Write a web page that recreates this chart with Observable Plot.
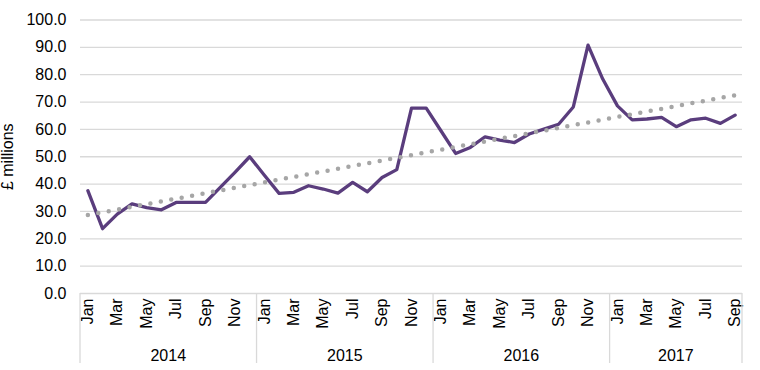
<!DOCTYPE html>
<html>
<head>
<meta charset="utf-8">
<script src="https://cdn.jsdelivr.net/npm/d3@7"></script>
<script src="https://cdn.jsdelivr.net/npm/@observablehq/plot@0.6"></script>
<style>
  html, body { margin: 0; padding: 0; background: #fff; }
  #chart { width: 760px; height: 370px; }
</style>
</head>
<body>
<div id="chart"></div>
<script>
const monthNames = ["Jan","Feb","Mar","Apr","May","Jun","Jul","Aug","Sep","Oct","Nov","Dec"];
const years = ["2014","2015","2016","2017"];
const values2014 = [37.6, 23.7, 29.0, 32.8, 31.4, 30.6, 33.3, 33.3, 33.3, 38.8, 44.3, 50.0];
const values2015 = [43.2, 36.6, 37.0, 39.4, 38.2, 36.7, 40.6, 37.2, 42.4, 45.3, 67.8, 67.8];
const values2016 = [59.5, 51.2, 53.4, 57.3, 56.1, 55.2, 58.3, 60.1, 61.9, 68.2, 90.8, 78.4];
const values2017 = [68.6, 63.5, 63.8, 64.4, 61.0, 63.5, 64.1, 62.2, 65.2];
const yTicks = [0, 10, 20, 30, 40, 50, 60, 70, 80, 90, 100];

const series = [values2014, values2015, values2016, values2017];
const rows = [];
series.forEach((vals, yi) => vals.forEach((v, mi) => {
  rows.push({ i: rows.length, year: years[yi], month: monthNames[mi], value: v });
}));
const monthTicks = rows.filter(d => d.i % 2 === 0).map(d => d.i);

const plot = Plot.plot({
  width: 760,
  height: 370,
  marginLeft: 80,
  marginRight: 18,
  marginTop: 19.5,
  marginBottom: 77,
  x: { type: "linear", domain: [-0.5, rows.length - 0.5] },
  y: { domain: [0, 100] },
  style: { fontFamily: "'Liberation Sans', Arial, sans-serif", fontSize: "16px", color: "#000", background: "#fff" },
  marks: [
    Plot.gridY({ ticks: yTicks, stroke: "#d9d9d9", strokeOpacity: 1, strokeWidth: 1.3 }),
    Plot.axisY({ ticks: yTicks, tickSize: 0, tickPadding: 14, tickFormat: d3.format(".1f"), fontSize: 16,
                 label: "£ millions", labelAnchor: "center", labelArrow: "none", labelOffset: 79 }),
    Plot.axisX({ ticks: monthTicks, tickFormat: i => rows[i].month, tickRotate: -90, fontSize: 16,
                 tickSize: 0, tickPadding: 5, label: null }),
    Plot.line(rows, { x: "i", y: "value", stroke: "#5a3d7d", strokeWidth: 3.3 }),
    Plot.linearRegressionY(rows, { x: "i", y: "value", ci: 0, stroke: "#a6a6a6",
                 strokeWidth: 4.5, strokeDasharray: "0,10.6", strokeLinecap: "round" })
  ]
});

document.getElementById("chart").appendChild(plot);

// Multi-level category axis: year separators and year labels, positioned with Plot's x scale
const xs = plot.scale("x");
const svg = d3.select(plot);
const bottom = 370 - 77;
const groups = years.map(y => {
  const r = rows.filter(d => d.year === y);
  return { year: y, start: r[0].i - 0.5, end: r[r.length - 1].i + 0.5 };
});
const bounds = [groups[0].start, ...groups.map(g => g.end)];
const g = svg.append("g");
g.selectAll("line").data(bounds).join("line")
  .attr("x1", d => xs.apply(d)).attr("x2", d => xs.apply(d))
  .attr("y1", bottom).attr("y2", bottom + 70)
  .attr("stroke", "#d9d9d9").attr("stroke-width", 1.3);
g.selectAll("text").data(groups).join("text")
  .attr("x", d => (xs.apply(d.start) + xs.apply(d.end)) / 2)
  .attr("y", bottom + 68)
  .attr("text-anchor", "middle")
  .attr("fill", "#000")
  .attr("font-size", 16)
  .text(d => d.year);
</script>
</body>
</html>
